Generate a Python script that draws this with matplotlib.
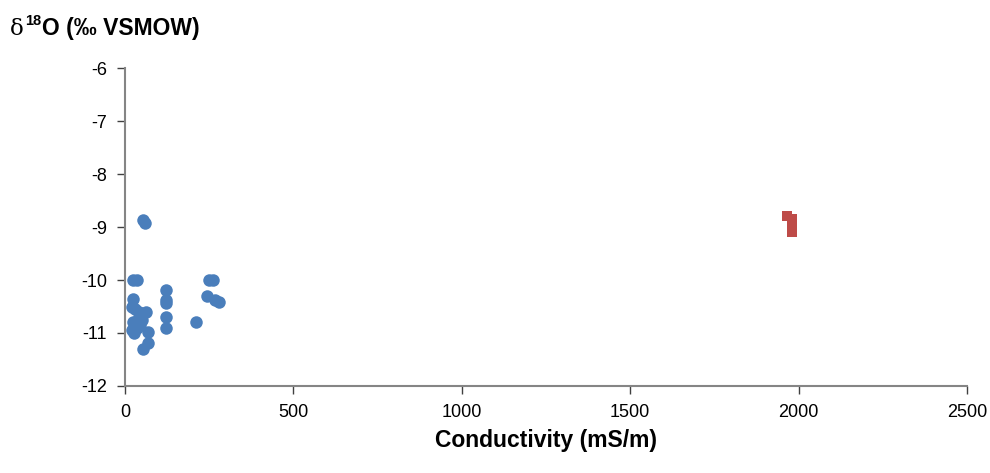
import matplotlib.pyplot as plt

plt.rcParams['font.family'] = ['Liberation Sans', 'DejaVu Sans']
plt.rcParams['axes.unicode_minus'] = False

# river / spring waters
fresh_cond = [54, 58, 25, 35, 250, 262, 121, 121, 121, 242, 268, 278, 25, 20,
              30, 62, 121, 210, 25, 40, 45, 50, 35, 121, 28, 67, 67, 54, 22, 40]
fresh_d18o = [-8.86, -8.93, -10.0, -10.0, -10.0, -10.0, -10.19, -10.37, -10.43,
              -10.3, -10.38, -10.42, -10.36, -10.5, -10.55, -10.6, -10.69,
              -10.79, -10.79, -10.7, -10.85, -10.75, -10.9, -10.91, -11.0,
              -10.99, -11.19, -11.31, -10.95, -10.6]

# saline waters
saline_cond = [1965, 1980, 1980, 1980, 1980]
saline_d18o = [-8.8, -8.85, -8.95, -9.05, -9.1]

x_ticks = [0, 500, 1000, 1500, 2000, 2500]
y_ticks = [-12, -11, -10, -9, -8, -7, -6]

fig = plt.figure(figsize=(9.9, 4.73), dpi=100)
ax = fig.add_axes([0.1263, 0.184, 0.8505, 0.672])

ax.plot(fresh_cond, fresh_d18o, 'o', color='#4a7ebb', markersize=9,
        markeredgewidth=0, clip_on=False)
ax.plot(saline_cond, saline_d18o, 's', color='#be4b48', markersize=6.5,
        markeredgewidth=0, clip_on=False)

ax.set_xlim(0, 2500)
ax.set_ylim(-12, -6)
ax.set_xticks(x_ticks)
ax.set_yticks(y_ticks)
ax.set_xticklabels([str(v) for v in x_ticks])
ax.set_yticklabels([str(v) for v in y_ticks])

for side in ['top', 'right']:
    ax.spines[side].set_visible(False)
for side in ['left', 'bottom']:
    ax.spines[side].set_color('#858585')
    ax.spines[side].set_linewidth(1.5)
ax.tick_params(direction='out', length=6, width=1, color='#404040',
               labelsize=13, pad=7)

ax.set_xlabel('Conductivity (mS/m)', fontsize=16.5, fontweight='bold', labelpad=6)

# axis title: delta symbol, superscript mass number, rest of the label
fig.canvas.draw()
r = fig.canvas.get_renderer()
ty = 0.925
t1 = fig.text(0.01, ty, 'δ', fontsize=16.5, family='DejaVu Serif',
              va='baseline', ha='left')
bb = t1.get_window_extent(r).transformed(fig.transFigure.inverted())
t2 = fig.text(bb.x1 + 0.001, ty + 0.022, '18', fontsize=10.5, fontweight='bold',
              va='baseline', ha='left')
bb = t2.get_window_extent(r).transformed(fig.transFigure.inverted())
fig.text(bb.x1 + 0.001, ty, 'O (‰ VSMOW)', fontsize=16.5, fontweight='bold',
         va='baseline', ha='left')

fig.savefig('out.png', dpi=100)
